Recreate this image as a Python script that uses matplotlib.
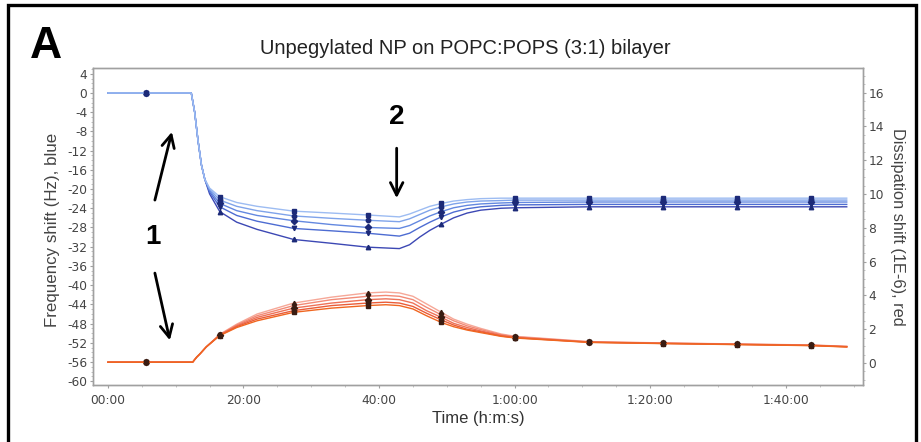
import matplotlib
matplotlib.use("Agg")
import matplotlib.pyplot as plt
from matplotlib.patches import Rectangle
from matplotlib.ticker import MultipleLocator

plt.rcParams["axes.unicode_minus"] = False

# ---- data -------------------------------------------------------------
# time in minutes; five overtones per signal (top curve first)
t_freq = [0, 5.6, 12.3, 12.8, 13.3, 13.8, 14.3, 15.0, 16.5, 19, 22, 27.4, 33,
          38.3, 43, 44.5, 46, 47.5, 49.2, 51, 53, 55, 58, 60.1, 71, 81.9,
          92.8, 103.7, 109]
freq_1 = [0, 0, 0, -4, -10, -15, -18, -19.8, -21.6, -22.8, -23.6, -24.6, -25.0,
          -25.4, -25.8, -25.2, -24.4, -23.6, -23.0, -22.5, -22.2, -22.0, -21.9,
          -21.9, -21.9, -21.9, -21.9, -21.9, -21.9]
freq_2 = [0, 0, 0, -4, -10, -15, -18, -20.0, -22.3, -23.6, -24.5, -25.6, -26.1,
          -26.5, -26.8, -26.2, -25.3, -24.4, -23.7, -23.1, -22.7, -22.5, -22.4,
          -22.3, -22.3, -22.3, -22.3, -22.3, -22.3]
freq_3 = [0, 0, 0, -4, -10, -15, -18, -20.3, -23.0, -24.5, -25.5, -26.6, -27.4,
          -28.0, -28.2, -27.6, -26.6, -25.6, -24.7, -23.9, -23.4, -23.1, -22.9,
          -22.8, -22.7, -22.7, -22.7, -22.7, -22.7]
freq_4 = [0, 0, 0, -4, -10, -15, -18, -20.6, -23.7, -25.5, -26.7, -28.2, -28.7,
          -29.2, -29.8, -29.2, -28.0, -26.9, -25.8, -24.8, -24.1, -23.7, -23.4,
          -23.3, -23.2, -23.2, -23.2, -23.2, -23.2]
freq_5 = [0, 0, 0, -4, -10, -15, -18, -21.0, -24.7, -26.9, -28.4, -30.5, -31.3,
          -32.1, -32.4, -31.6, -30.0, -28.6, -27.3, -26.0, -25.0, -24.4, -24.0,
          -23.9, -23.7, -23.7, -23.7, -23.7, -23.7]

t_diss = [0, 5.6, 12.5, 13.1, 13.6, 14.5, 16.5, 19, 22, 27.4, 33, 38.3, 41, 43,
          45, 47, 49.2, 51, 53, 55, 58, 60.1, 71, 81.9, 92.8, 103.7, 109]
diss_1 = [0.05, 0.05, 0.05, 0.35, 0.55, 0.95, 1.70, 2.30, 2.90, 3.55, 3.90, 4.15,
          4.20, 4.15, 3.95, 3.50, 3.00, 2.60, 2.30, 2.05, 1.72, 1.58, 1.27, 1.19,
          1.13, 1.07, 0.99]
diss_2 = [0.05, 0.05, 0.05, 0.35, 0.55, 0.95, 1.68, 2.25, 2.80, 3.40, 3.75, 3.95,
          4.00, 3.95, 3.75, 3.30, 2.85, 2.50, 2.20, 1.98, 1.68, 1.55, 1.25, 1.18,
          1.12, 1.06, 0.98]
diss_3 = [0.05, 0.05, 0.05, 0.35, 0.55, 0.95, 1.66, 2.20, 2.70, 3.25, 3.55, 3.75,
          3.80, 3.75, 3.55, 3.10, 2.70, 2.35, 2.10, 1.90, 1.64, 1.52, 1.24, 1.17,
          1.11, 1.05, 0.97]
diss_4 = [0.05, 0.05, 0.05, 0.35, 0.55, 0.95, 1.64, 2.15, 2.60, 3.10, 3.40, 3.55,
          3.60, 3.55, 3.35, 2.95, 2.55, 2.25, 2.00, 1.85, 1.60, 1.50, 1.23, 1.16,
          1.10, 1.04, 0.96]
diss_5 = [0.05, 0.05, 0.05, 0.35, 0.55, 0.95, 1.62, 2.10, 2.50, 3.00, 3.25, 3.40,
          3.45, 3.40, 3.20, 2.80, 2.40, 2.15, 1.95, 1.80, 1.58, 1.48, 1.22, 1.15,
          1.09, 1.03, 0.95]

marker_times = [5.6, 16.5, 27.4, 38.3, 49.2, 60.1, 71, 81.9, 92.8, 103.7]

x_ticks = [0, 20, 40, 60, 80, 100]
x_tick_labels = ["00:00", "20:00", "40:00", "1:00:00", "1:20:00", "1:40:00"]
freq_ticks = list(range(4, -61, -4))
diss_ticks = list(range(0, 17, 2))

# ---- styling ----------------------------------------------------------
W, H = 921, 442
fig = plt.figure(figsize=(W / 100, H / 100), dpi=100)
fig.patch.set_facecolor("white")

def fx(px):
    return px / W

def fy(py):
    return 1 - py / H

ax = fig.add_axes([fx(93), fy(385), fx(863) - fx(93), fy(68) - fy(385)])
ax2 = ax.twinx()

blue_cols = ["#9dbcf2", "#7fa3ea", "#6388e0", "#4d6cd2", "#3c48b4"]
red_cols = ["#f6a898", "#f28a76", "#ee7258", "#ea5c38", "#f06620"]
shapes = ["^", "v", "D", "o", "s"]

def marker_idx(times):
    return [i for i, t in enumerate(times) if t in marker_times]

fi = marker_idx(t_freq)
di = marker_idx(t_diss)

for vals, c, m in zip([freq_5, freq_4, freq_3, freq_2, freq_1],
                      blue_cols[::-1], shapes):
    ax.plot(t_freq, vals, color=c, lw=1.0, marker=m, markevery=fi, ms=3.2,
            mfc="#1c2a78", mec="#1c2a78", zorder=3)

for vals, c, m in zip([diss_1, diss_2, diss_3, diss_4, diss_5], red_cols, shapes):
    ax2.plot(t_diss, vals, color=c, lw=1.0, marker=m, markevery=di, ms=3.2,
             mfc="#3a1c12", mec="#3a1c12", zorder=3)

ax.set_xlim(-2.2, 111.4)
ax.set_ylim(-60.8, 5.2)
ax2.set_ylim(-1.30, 17.46)

ax.set_xticks(x_ticks)
ax.set_xticklabels(x_tick_labels)
ax.set_yticks(freq_ticks)
ax2.set_yticks(diss_ticks)
ax.xaxis.set_minor_locator(MultipleLocator(5))
ax.yaxis.set_minor_locator(MultipleLocator(1))
ax2.yaxis.set_minor_locator(MultipleLocator(0.5))

for a in (ax, ax2):
    for s in a.spines.values():
        s.set_color("#a0a0a0")
        s.set_linewidth(1.0)
    a.tick_params(which="major", length=2.5, width=0.8, color="#a0a0a0",
                  labelcolor="#444444", labelsize=8.8, pad=1.5)
    a.tick_params(which="minor", length=1.5, width=0.6, color="#b8b8b8")
ax.tick_params(axis="x", pad=4)
for lab in ax.get_xticklabels() + ax.get_yticklabels() + ax2.get_yticklabels():
    lab.set_fontfamily("DejaVu Sans")

# labels and title
lab_font = "Liberation Sans"
fig.text(fx(465), fy(48), "Unpegylated NP on POPC:POPS (3:1) bilayer",
         ha="center", va="center", fontsize=14.5, family=lab_font, color="#222222")
fig.text(fx(46), fy(46), "A", ha="center", va="center", fontsize=32,
         fontweight="bold", family=lab_font, color="black")
fig.text(fx(53), fy(230), "Frequency shift (Hz), blue", rotation=90,
         ha="center", va="center", fontsize=12.2, family=lab_font, color="#444444")
fig.text(fx(897), fy(227), "Dissipation shift (1E-6), red", rotation=-90,
         ha="center", va="center", fontsize=11.8, family=lab_font, color="#444444")
fig.text(fx(478), fy(418), "Time (h:m:s)", ha="center", va="center",
         fontsize=12, family=lab_font, color="#333333")

# annotations
arrow = dict(arrowstyle="->,head_length=0.9,head_width=0.45", lw=2.0,
             color="black", shrinkA=0, shrinkB=0)
ax.annotate("", xy=(9.44, -8.1), xytext=(6.93, -22.3), arrowprops=arrow)
ax.annotate("", xy=(9.14, -51.5), xytext=(6.93, -37.5), arrowprops=arrow)
ax.text(6.6, -30, "1", ha="center", va="center", fontsize=20,
        fontweight="bold", family=lab_font)
ax.annotate("", xy=(42.6, -21.9), xytext=(42.6, -11.5), arrowprops=arrow)
ax.text(42.6, -5.0, "2", ha="center", va="center", fontsize=20,
        fontweight="bold", family=lab_font)

# outer frame
frame = Rectangle((fx(8), -0.02), fx(916) - fx(8), fy(5) + 0.02,
                  transform=fig.transFigure, fill=False, lw=2.4,
                  edgecolor="black")
fig.patches.append(frame)

fig.savefig("out.png", dpi=100, facecolor="white")
